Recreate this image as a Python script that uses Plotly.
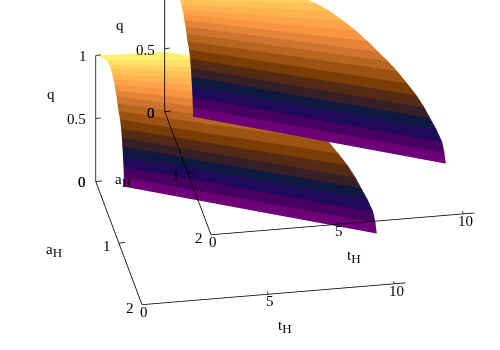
import numpy as np
import plotly.graph_objects as go

# Surface: constant-q rows, each from a left end to a right end
q_levels = [0, .076, .158, .238, .318, .39, .46, .53, .595, .655, .71, .76, .805, .845, .88, .915, .945, .975, 1]
a_left = [.120, .120, .115, .114, .114, .113, .108, .103, .103, .094, .091, .093, .086, .084, .073, .062, .047, .032, .007]
t_left = [1.014, 1.006, .995, .975, .952, .929, .905, .867, .807, .772, .739, .690, .664, .618, .581, .547, .473, .368, .053]
a_right = [1.187, 1.161, 1.151, 1.103, 1.084, 1.045, .979, .920, .842, .790, .738, .655, .559, .464, .357, .300, .264, .144, .031]
t_right = [10.05, 10.02, 9.94, 9.754, 9.533, 9.33, 9.073, 8.757, 8.431, 8.105, 7.771, 7.411, 7.032, 6.603, 6.144, 5.681, 5.237, 4.194, 2.71]
band_colors = ["#6d0077", "#470060", "#1e0a58", "#0f1840", "#352028", "#552b15", "#7a3e05", "#9c5212", "#b8651f",
               "#cf7430", "#e58338", "#f99540", "#ffa348", "#ffb250", "#ffc058", "#ffd060", "#ffe068", "#fff070"]
a_ticks = [0, 1, 2]
t_ticks = [0, 5, 10]
q_ticks = [0, 0.5, 1]
A_MAX, T_MAX = 2, 10.45

# Camera
AZ, EL = np.radians(-10), np.radians(28)
ASPECT = dict(x=1.523, y=1.53, z=0.816)
R = 3.0      # eye distance
S = 172.0    # px per normalised scene unit


def camera(dx, dy):
    e = np.array([np.cos(EL) * np.cos(AZ), np.cos(EL) * np.sin(AZ), np.sin(EL)])
    r = np.array([-np.sin(AZ), np.cos(AZ), 0])
    u = np.array([-np.sin(EL) * np.cos(AZ), -np.sin(EL) * np.sin(AZ), np.cos(EL)])
    c = -(dx / S) * r - (dy / S) * u
    ey = c + R * e
    return dict(projection=dict(type="orthographic"), up=dict(x=0, y=0, z=1),
                center=dict(x=c[0], y=c[1], z=c[2]), eye=dict(x=ey[0], y=ey[1], z=ey[2]))


fs = np.linspace(0, 1, 6)
ql = np.array(q_levels)
X = np.array(a_left)[:, None] + (np.array(a_right) - np.array(a_left))[:, None] * fs
Y = np.array(t_left)[:, None] + (np.array(t_right) - np.array(t_left))[:, None] * fs
Z = np.repeat(ql[:, None], len(fs), axis=1)
cs = []
for i, col in enumerate(band_colors):
    cs += [[q_levels[i], col], [q_levels[i + 1], col]]

fig = go.Figure()


def segs(points):
    xs, ys, zs = [], [], []
    for p, q in points:
        xs += [p[0], q[0], None]
        ys += [p[1], q[1], None]
        zs += [p[2], q[2], None]
    return xs, ys, zs


def add_chart(scene):
    fig.add_trace(go.Surface(x=X, y=Y, z=Z, surfacecolor=Z, colorscale=cs, cmin=0, cmax=1, showscale=False,
                             hoverinfo="skip", scene=scene,
                             lighting=dict(ambient=1, diffuse=0, specular=0, roughness=1, fresnel=0),
                             contours=dict(x=dict(highlight=False), y=dict(highlight=False), z=dict(highlight=False))))
    pts = [((0, 0, 0), (0, 0, 1)), ((0, 0, 0), (A_MAX, 0, 0)), ((A_MAX, 0, 0), (A_MAX, T_MAX, 0))]
    pts += [((0, 0, v), (0, 0.2, v)) for v in q_ticks]
    pts += [((v, 0, 0), (v, 0.24, 0)) for v in a_ticks]
    pts += [((A_MAX, v, 0), (A_MAX - 0.04, v, 0)) for v in t_ticks]
    xs, ys, zs = segs(pts)
    fig.add_trace(go.Scatter3d(x=xs, y=ys, z=zs, mode="lines", line=dict(color="black", width=1.6),
                               hoverinfo="skip", showlegend=False, scene=scene))


def notes(show_q1):
    f = dict(family="Liberation Serif", size=15, color="black")
    def n(x, y, z, text, dx, dy):
        return dict(x=x, y=y, z=z, text=text, showarrow=False, xshift=dx, yshift=dy, font=f,
                    xanchor="center", yanchor="middle")
    out = []
    for v in q_ticks:
        if v == 1 and not show_q1:
            continue
        out.append(n(0, 0, v, f"{v:g}", {0: -14, 0.5: -19, 1: -13}[v], -1))
    for v in a_ticks:
        out.append(n(v, 0, 0, f"{v:g}", -14 if v == 0 else -12, -1 if v == 0 else -3))
    for v in t_ticks:
        out.append(n(A_MAX, v, 0, f"{v:g}", 2, -7))
    sub = '<sub><span style="font-size:13px">H</span></sub>'
    out.append(n(0, 0, 0.5, "q", -45, 24))
    out.append(n(1, 0, 0, "a" + sub, -65, -7))
    out.append(n(A_MAX, 5, 0, "t" + sub, 17, -32))
    return out


add_chart("scene")
add_chart("scene2")


def scene_layout(dx, dy, show_q1):
    ax = lambda rng: dict(visible=False, range=rng, autorange=False)
    return dict(domain=dict(x=[0, 1], y=[0, 1]), xaxis=ax([0, A_MAX]), yaxis=ax([0, T_MAX]), zaxis=ax([0, 1]),
                aspectmode="manual", aspectratio=ASPECT, camera=camera(dx, dy), bgcolor="rgba(0,0,0,0)",
                annotations=notes(show_q1))


fig.update_layout(width=500, height=350, margin=dict(l=0, r=0, t=0, b=0), paper_bgcolor="white",
                  showlegend=False, scene=scene_layout(0.7, 5.8, True), scene2=scene_layout(68.5, 74.5, False))
fig.write_html("out.html", config=dict(displayModeBar=False),
               post_script="document.body.style.margin='0';")
